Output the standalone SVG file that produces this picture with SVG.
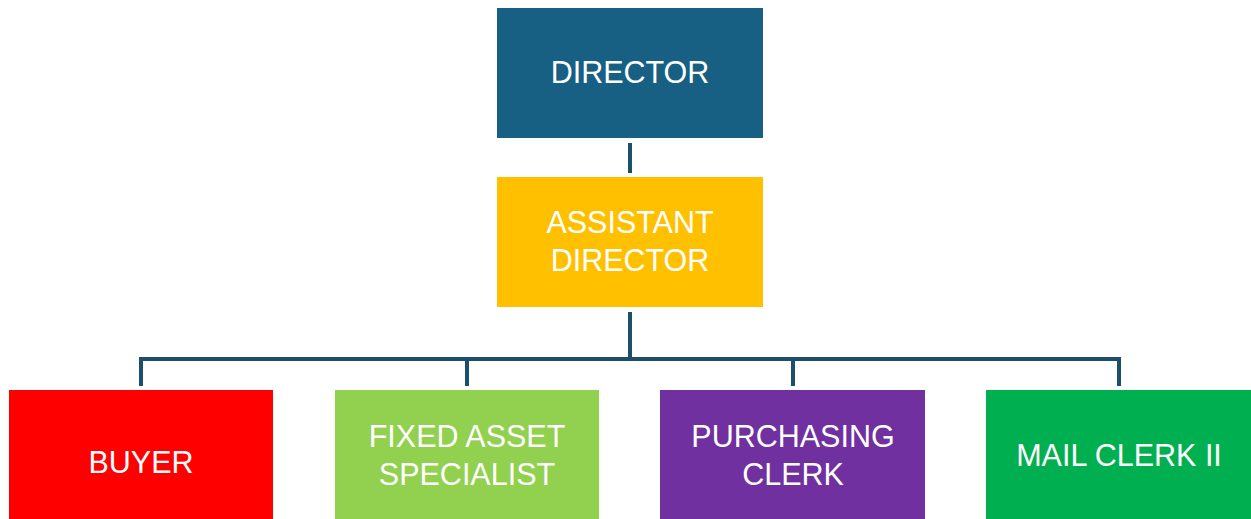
<svg xmlns="http://www.w3.org/2000/svg" width="1251" height="519" viewBox="0 0 1251 519">
  <style>
    .box { stroke: none; }
    .lbl { font-family: "Liberation Sans", Arial, sans-serif; font-size: 30.5px; fill: #ffffff; text-anchor: middle; }
    .wire { fill: none; stroke: #1b4f6b; stroke-width: 4; stroke-linecap: butt; stroke-linejoin: miter; }
  </style>
  <rect width="1251" height="519" fill="#ffffff"/>

  <g id="connectors">
    <line class="wire" x1="630" y1="143" x2="630" y2="173"/>
    <line class="wire" x1="630" y1="312" x2="630" y2="359"/>
    <polyline class="wire" points="141,386 141,359 1119,359 1119,386"/>
    <line class="wire" x1="467" y1="359" x2="467" y2="386"/>
    <line class="wire" x1="793" y1="359" x2="793" y2="386"/>
  </g>

  <g id="director">
    <rect class="box" x="497" y="8" width="266" height="130" fill="#186083"/>
    <text class="lbl" x="630" y="83">DIRECTOR</text>
  </g>

  <g id="assistant-director">
    <rect class="box" x="497" y="177" width="266" height="130" fill="#ffc000"/>
    <text class="lbl" x="630" y="233">ASSISTANT</text>
    <text class="lbl" x="630" y="271">DIRECTOR</text>
  </g>

  <g id="buyer">
    <rect class="box" x="9" y="390" width="264" height="140" fill="#ff0000"/>
    <text class="lbl" x="141" y="473">BUYER</text>
  </g>

  <g id="fixed-asset-specialist">
    <rect class="box" x="335" y="390" width="264" height="140" fill="#92d050"/>
    <text class="lbl" x="467" y="447">FIXED ASSET</text>
    <text class="lbl" x="467" y="485">SPECIALIST</text>
  </g>

  <g id="purchasing-clerk">
    <rect class="box" x="660" y="390" width="265" height="140" fill="#7030a0"/>
    <text class="lbl" x="793" y="447">PURCHASING</text>
    <text class="lbl" x="793" y="485">CLERK</text>
  </g>

  <g id="mail-clerk">
    <rect class="box" x="986" y="390" width="265" height="140" fill="#00b050"/>
    <text class="lbl" x="1119" y="466">MAIL CLERK II</text>
  </g>
</svg>
